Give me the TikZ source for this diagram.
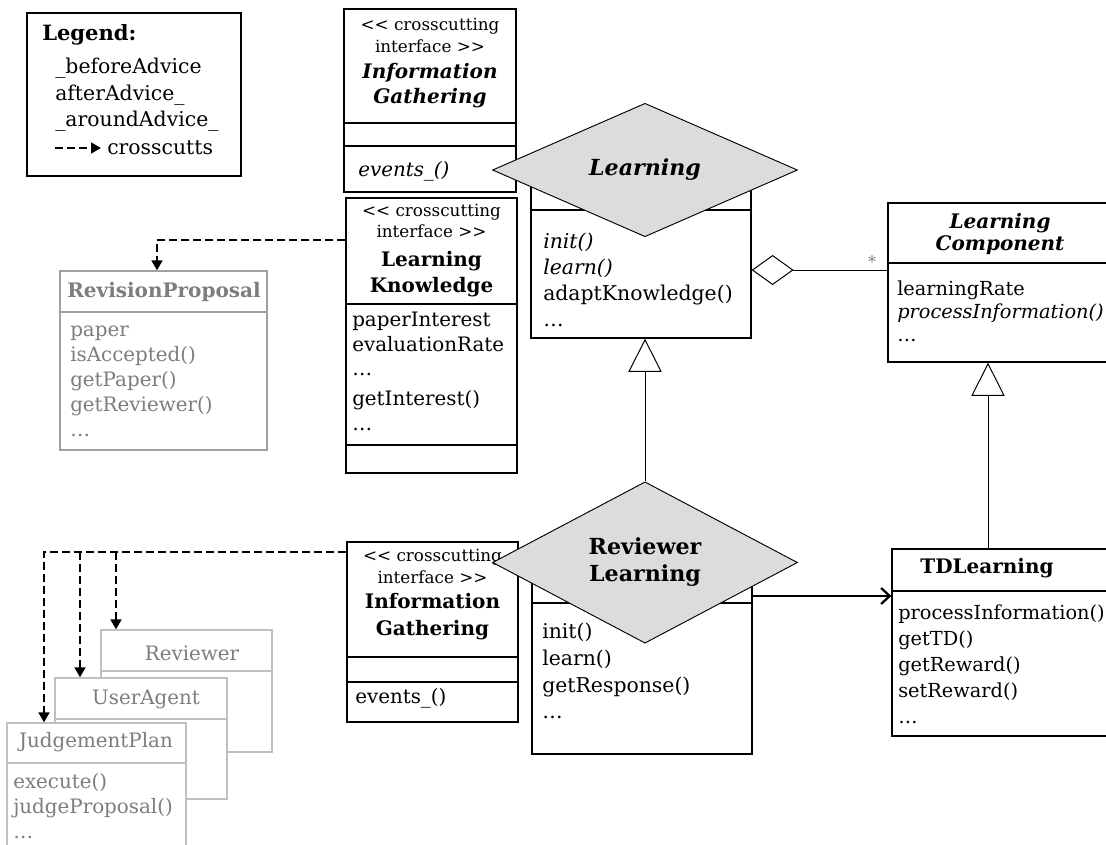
\documentclass[tikz,border=0pt]{standalone}
\usepackage{fontspec}
\setmainfont{DejaVu Serif}
\usepackage{xcolor}
\usepackage{tikz}
\usetikzlibrary{positioning}
\usetikzlibrary{arrows.meta}
\usetikzlibrary{fit}
\usetikzlibrary{shapes.geometric}
\definecolor{aspectgray}{RGB}{220,220,220}
\definecolor{fadedtext}{RGB}{125,125,125}
\definecolor{fadedline}{RGB}{192,192,192}
\definecolor{rpline}{RGB}{160,160,160}
\newcommand{\sized}[2]{\fontsize{#1}{#2}\selectfont}
% kern keeps << and >> from turning into guillemets
\newcommand{\stlt}{<\kern0pt<}
\newcommand{\stgt}{>\kern0pt>}
\tikzset {
  % class boxes, fitted round their corners
  umlbox/.style = {draw, fill=white, line width=0.9pt, inner sep=0pt},
  ghost/.style = {umlbox, draw=fadedline},
  % line between compartments
  compart/.style = {line width=0.9pt},
  % aspects as grey diamonds
  aspectnode/.style = {draw, diamond, fill=aspectgray, line width=0.7pt, inner sep=0pt,
    minimum width=228.75pt, minimum height=76.5pt, align=center, font=\sized{16.6}{20.25}\bfseries},
  % texts inside boxes
  members/.style = {anchor=north west, inner sep=0pt, align=left, font=\sized{14.9}{19.5}},
  stereo/.style = {anchor=north, inner sep=0pt, align=center, font=\sized{12.6}{17}},
  classname/.style = {anchor=north, inner sep=0pt, align=center, font=\sized{15}{19}\bfseries},
  % connectors
  cuts/.style = {line width=1.9pt, dash pattern=on 6pt off 3pt, -{Triangle[length=7.5pt, width=8pt]}},
  inherit/.style = {line width=0.75pt, -{Triangle[open, length=25pt, width=25pt]}},
  aggr/.style = {line width=0.75pt, {Diamond[open, length=31.5pt, width=22.5pt]}-},
  nav/.style = {line width=1.7pt, -{Straight Barb[length=6.5pt, width=12pt]}},
}

\begin{document}
\begin{tikzpicture}[x=0.75pt, y=-0.75pt]
  \useasboundingbox (0,0) rectangle (1106,844);
  \clip (0,0) rectangle (1106,844);

  % legend
  \node[umlbox, fit={(27,13) (241,176)}] (legend) {};
  \node[classname, anchor=north west, font=\sized{15.8}{19}\bfseries] (legendtitle) at (42,22) {\strut Legend:};
  \node[members, font=\sized{15.3}{19.8}] (advices) at (55,55) {\strut\_beforeAdvice\\afterAdvice\_\\\_aroundAdvice\_};
  \node[members, font=\sized{15.3}{19.8}] (cutstext) at (107,136) {\strut crosscutts};
  \coordinate (legfrom) at (55,148);
  \coordinate (legto) at (101,148);
  \draw[cuts] (legfrom) -- (legto);

  % crosscutting interface of Learning
  \node[umlbox, fit={(344,9) (516,192)}] (ig1) {};
  \draw[compart] (ig1.west |- 0,123) -- (ig1.east |- 0,123);
  \draw[compart] (ig1.west |- 0,146) -- (ig1.east |- 0,146);
  \node[stereo] (ig1st) at (430,14) {\strut\stlt{} crosscutting\\interface \stgt};
  \node[classname, font=\sized{15}{19}\bfseries\itshape] (ig1name) at (430,60) {\strut Information\\Gathering};
  \node[members] (ig1ops) at (358,158) {\strut\textit{events\_()}};

  \node[umlbox, fit={(346,198) (517,473)}] (lk) {};
  \draw[compart] (lk.west |- 0,304) -- (lk.east |- 0,304);
  \draw[compart] (lk.west |- 0,445) -- (lk.east |- 0,445);
  \node[stereo, font=\sized{12.6}{15.75}] (lkst) at (431.5,202) {\strut\stlt{} crosscutting\\interface \stgt};
  \node[classname, font=\sized{15}{19.5}\bfseries] (lkname) at (431.5,248) {\strut Learning\\Knowledge};
  \node[members, font=\sized{14.9}{18.5}] (lkattr) at (352,309) {\strut paperInterest\\evaluationRate\\\dots\\[4pt]getInterest()\\\dots};

  % crosscut class
  \node[ghost, draw=rpline, fit={(60,271) (267,450)}] (rp) {};
  \draw[compart, rpline] (rp.west |- 0,312) -- (rp.east |- 0,312);
  \node[classname, text=fadedtext] (rpname) at (164,279) {\strut RevisionProposal};
  \node[members, text=fadedtext, font=\sized{14.9}{18.75}] (rpattr) at (70,319) {\strut paper\\isAccepted()\\getPaper()\\getReviewer()\\\dots};

  % Learning aspect
  \node[umlbox, fit={(531,172) (751,338)}] (learn) {};
  \draw[compart] (learn.west |- 0,210) -- (learn.east |- 0,210);
  \node[members, font=\sized{15.3}{19.5}] (learnops) at (543,230) {\strut\textit{init()}\\\textit{learn()}\\adaptKnowledge()\\\dots};

  \node[umlbox, fit={(888,203) (1120,362)}] (lc) {};
  \draw[compart] (lc.west |- 0,263) -- (lc.east |- 0,263);
  \node[classname, font=\sized{15}{16.5}\bfseries\itshape] (lcname) at (1000,213) {\strut Learning\\Component};
  \node[members, font=\sized{14.5}{17.25}] (lcattr) at (897,279) {\strut learningRate\\\textit{processInformation()}\\\dots};
  \node[text=fadedtext, font=\sized{12}{14}] (mult) at (872,262) {*};

  \node[umlbox, fit={(892,549) (1120,736)}] (td) {};
  \draw[compart] (td.west |- 0,591) -- (td.east |- 0,591);
  \node[classname, anchor=center] (tdname) at (987,568) {TDLearning};
  \node[members, font=\sized{14.5}{19.5}] (tdops) at (898,601) {\strut processInformation()\\getTD()\\getReward()\\setReward()\\\dots};

  % Reviewer Learning aspect
  \node[umlbox, fit={(532,562) (752,754)}] (rl) {};
  \draw[compart] (rl.west |- 0,603) -- (rl.east |- 0,603);
  \node[members, font=\sized{15.3}{20}] (rlops) at (542,620) {\strut init()\\learn()\\getResponse()\\\dots};

  \node[umlbox, fit={(347,542) (518,722)}] (ig2) {};
  \draw[compart] (ig2.west |- 0,657) -- (ig2.east |- 0,657);
  \draw[compart] (ig2.west |- 0,682) -- (ig2.east |- 0,682);
  \node[stereo] (ig2st) at (432.5,545) {\strut\stlt{} crosscutting\\interface \stgt};
  \node[classname, font=\sized{15}{20}\bfseries] (ig2name) at (432.5,590) {\strut Information\\Gathering};
  \node[members] (ig2ops) at (355,685) {\strut events\_()};

  % classes crosscut by Reviewer Learning
  \node[ghost, fit={(101,630) (272,752)}] (rev) {};
  \draw[compart, fadedline] (rev.west |- 0,671) -- (rev.east |- 0,671);
  \node[text=fadedtext, font=\sized{14.9}{19.5}] (revname) at (192,653) {Reviewer};
  \node[ghost, fit={(55,678) (227,799)}] (ua) {};
  \draw[compart, fadedline] (ua.west |- 0,719) -- (ua.east |- 0,719);
  \node[text=fadedtext, font=\sized{14.9}{19.5}] (uaname) at (146,699) {UserAgent};
  \node[ghost, fit={(7,723) (186,870)}] (jp) {};
  \draw[compart, fadedline] (jp.west |- 0,763) -- (jp.east |- 0,763);
  \node[text=fadedtext, font=\sized{14.9}{19.5}] (jpname) at (96,742) {JudgementPlan};
  \node[members, text=fadedtext, font=\sized{14.9}{18.75}] (jpops) at (13,771) {\strut execute()\\judgeProposal()\\\dots};

  % the diamonds
  \node[aspectnode, font=\sized{16.6}{20}\bfseries\itshape] (learnD) at (645,170) {Learning};
  \node[aspectnode] (rlD) at (645,562.5) {Reviewer\\Learning};

  % relations
  \draw[aggr] (learn.east |- 0,270) -- (lc.west |- 0,270);
  \draw[inherit] (rlD.north) -- (rlD.north |- learn.south);
  \draw[inherit] (td.north -| 988,0) -- (lc.south -| 988,0);
  \draw[nav] (rl.east |- 0,596) -- (td.west |- 0,596);

  % crosscutts
  \draw[cuts] (lk.west |- 0,240) -| (rp.north -| 157,0);
  \coordinate (fork1) at (80,552);
  \coordinate (fork2) at (116,552);
  \draw[cuts] (ig2.west |- 0,552) -| (jp.north -| 44,0);
  \draw[cuts] (fork1) -- (ua.north -| fork1);
  \draw[cuts] (fork2) -- (rev.north -| fork2);
\end{tikzpicture}
\end{document}
